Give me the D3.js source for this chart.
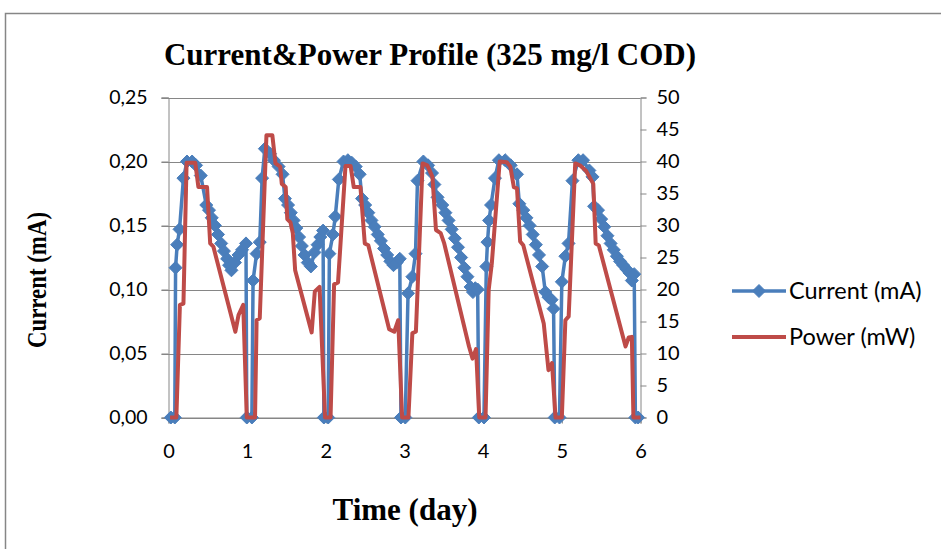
<!DOCTYPE html>
<html><head><meta charset="utf-8">
<script src="https://cdn.jsdelivr.net/npm/d3@7"></script>
<style>body{margin:0;background:#fff}svg{display:block}</style>
</head><body><svg id="c" width="941" height="549"></svg>
<script>
const chartTitle = "Current&Power Profile (325 mg/l COD)";
const xTitle = "Time (day)";
const yTitle = "Current (mA)";
const seriesNames = ["Current (mA)", "Power (mW)"];
const xTicks = [0, 1, 2, 3, 4, 5, 6];
const leftTicks = [0, 0.05, 0.10, 0.15, 0.20, 0.25];
const rightTicks = [0, 5, 10, 15, 20, 25, 30, 35, 40, 45, 50];

const currentTime = [
 0.03,0.08,0.09,0.11,0.14,0.19,0.235,0.30,0.35,0.41,0.48,0.515,0.55,0.59,0.63,0.67,0.705,0.745,0.77,0.80,0.845,0.89,0.935,0.985,0.995,
 1.06,1.075,1.12,1.16,1.19,1.225,1.29,1.34,1.40,1.45,1.48,1.52,1.555,1.59,1.625,1.66,1.695,1.73,1.77,1.81,1.855,1.895,1.93,1.965,1.975,
 2.03,2.045,2.09,2.12,2.165,2.225,2.28,2.33,2.38,2.43,2.46,2.50,2.54,2.58,2.62,2.66,2.70,2.74,2.78,2.82,2.86,2.90,2.94,2.955,
 3.01,3.045,3.10,3.14,3.165,3.24,3.30,3.35,3.38,3.42,3.48,3.52,3.56,3.60,3.64,3.68,3.72,3.76,3.80,3.84,3.87,3.90,3.93,3.945,
 4.01,4.04,4.055,4.075,4.10,4.15,4.20,4.28,4.35,4.43,4.46,4.51,4.55,4.59,4.63,4.67,4.71,4.75,4.79,4.83,4.87,4.895,4.91,
 4.97,5.00,5.045,5.085,5.135,5.21,5.27,5.35,5.39,5.41,5.46,5.50,5.54,5.58,5.62,5.66,5.70,5.74,5.78,5.82,5.86,5.89,5.92,5.935,5.97
];
const currentValues = [
 0,0,0.117,0.135,0.147,0.187,0.200,0.200,0.197,0.189,0.166,0.162,0.156,0.150,0.143,0.136,0.130,0.124,0.119,0.115,0.121,0.127,0.131,0.136,0,
 0,0.107,0.128,0.137,0.187,0.210,0.206,0.201,0.196,0.190,0.171,0.166,0.160,0.154,0.148,0.141,0.134,0.127,0.121,0.118,0.129,0.135,0.141,0.146,0,
 0,0.128,0.143,0.157,0.186,0.200,0.201,0.199,0.196,0.190,0.171,0.166,0.160,0.154,0.149,0.143,0.138,0.132,0.127,0.122,0.119,0.121,0.124,0,
 0,0.097,0.110,0.128,0.185,0.200,0.197,0.191,0.182,0.172,0.166,0.160,0.154,0.147,0.140,0.133,0.125,0.117,0.110,0.102,0.098,0.101,0.100,0,
 0,0.118,0.137,0.154,0.166,0.187,0.201,0.201,0.197,0.190,0.167,0.162,0.156,0.150,0.143,0.135,0.127,0.118,0.098,0.094,0.092,0.085,0,
 0,0.106,0.126,0.136,0.185,0.201,0.201,0.193,0.188,0.165,0.162,0.155,0.149,0.142,0.136,0.131,0.126,0.122,0.119,0.116,0.113,0.107,0.112,0,0
];
const powerTime = [
 0.02,0.10,0.145,0.19,0.23,0.34,0.38,0.49,0.53,0.57,0.85,0.89,0.95,0.995,
 1.10,1.12,1.16,1.245,1.32,1.36,1.42,1.44,1.49,1.51,1.55,1.58,1.61,1.82,1.86,1.92,1.99,
 2.06,2.105,2.155,2.25,2.315,2.355,2.44,2.495,2.54,2.805,2.87,2.92,2.97,
 3.05,3.10,3.145,3.23,3.29,3.355,3.40,3.46,3.505,3.82,3.865,3.91,3.95,
 4.03,4.07,4.11,4.21,4.30,4.345,4.39,4.43,4.47,4.51,4.77,4.83,4.875,4.92,
 5.00,5.045,5.087,5.17,5.23,5.31,5.40,5.43,5.47,5.81,5.85,5.89,5.91,6.00
];
const powerValues = [
 0,0,17.6,17.8,39.8,39.8,36,36,27.2,26.7,13.4,16,17.6,0,
 0,15.2,15.5,44.1,44.1,39.7,39.2,36.5,36,31,30.5,28.8,23,13.3,19.7,20.4,0,
 0,20.8,21.1,39.3,39.3,36,36,27.2,26.9,13.8,13.4,15.2,0,
 0,13.2,13.4,39.7,39.4,37.6,29.3,28.8,27.2,11.1,9.2,10.7,0,
 0,19.9,24.1,40.0,39.9,39.2,36,35.8,27.5,26.9,14.7,7.4,8.5,0,
 0,15.2,15.8,39.7,39.4,38.5,36.5,27.2,26.9,11.1,12.5,12.6,0,0
];

const blue = "#4A7EBB", red = "#BE4B48", grid = "#868686";
const svg = d3.select("#c");
const L = 168.5, R = 640.5, T = 97.5, B = 417.5;
const x = d3.scaleLinear().domain([0, 6]).range([L, R]);
const yL = d3.scaleLinear().domain([0, 0.25]).range([B, T]);
const yR = d3.scaleLinear().domain([0, 50]).range([B, T]);
const loc = d3.formatLocale({decimal: ",", thousands: ".", grouping: [3], currency: ["", ""]});
const fmtL = loc.format(".2f");

// chart border
svg.append("rect").attr("x", 5.5).attr("y", 13.5).attr("width", 1000).attr("height", 600)
  .attr("fill", "#fff").attr("stroke", grid).attr("stroke-width", 1.5);

// title
svg.append("text").attr("x", 430).attr("y", 65).attr("text-anchor", "middle")
  .attr("font-family", "Liberation Serif").attr("font-weight", "bold").attr("font-size", 31)
  .text(chartTitle);

// gridlines
svg.append("g").selectAll("line").data(leftTicks).join("line")
  .attr("x1", L - 7).attr("x2", R).attr("y1", d => Math.round(yL(d)) + 0.5).attr("y2", d => Math.round(yL(d)) + 0.5)
  .attr("stroke", grid).attr("stroke-width", 1);

// left axis
const gL = svg.append("g").attr("transform", `translate(${L},0)`)
  .call(d3.axisLeft(yL).tickValues(leftTicks).tickFormat(fmtL).tickSize(7).tickPadding(14));
gL.select(".domain").attr("stroke", grid);
gL.selectAll(".tick line").attr("stroke", grid);
gL.selectAll("text").attr("font-family", "Lato").attr("font-size", 19.5).attr("fill", "#000");

// right axis
const gR = svg.append("g").attr("transform", `translate(${R},0)`)
  .call(d3.axisRight(yR).tickValues(rightTicks).tickSize(6).tickPadding(10));
gR.select(".domain").attr("stroke", grid);
gR.selectAll(".tick line").attr("stroke", grid);
gR.selectAll("text").attr("font-family", "Lato").attr("font-size", 20).attr("fill", "#000");

// bottom axis
const gB = svg.append("g").attr("transform", `translate(0,${B})`)
  .call(d3.axisBottom(x).tickValues(xTicks).tickFormat(d3.format("d")).tickSize(6).tickPadding(20));
gB.select(".domain").attr("stroke", grid);
gB.selectAll(".tick line").attr("stroke", grid);
gB.selectAll("text").attr("font-family", "Lato").attr("font-size", 20).attr("fill", "#000");

// axis titles
svg.append("text").attr("x", 405).attr("y", 520).attr("text-anchor", "middle")
  .attr("font-family", "Liberation Serif").attr("font-weight", "bold").attr("font-size", 31)
  .text(xTitle);
svg.append("text").attr("transform", "translate(46,280) rotate(-90)").attr("text-anchor", "middle")
  .attr("font-family", "Liberation Serif").attr("font-weight", "bold").attr("font-size", 28)
  .attr("textLength", 136).attr("lengthAdjust", "spacingAndGlyphs")
  .text(yTitle);

// series
const cur = currentTime.map((t, i) => [t, currentValues[i]]);
const pow = powerTime.map((t, i) => [t, powerValues[i]]);
const diamond = "M0,-6.5L6.5,0L0,6.5L-6.5,0Z";

svg.append("path").datum(cur).attr("fill", "none").attr("stroke", blue).attr("stroke-width", 3.5)
  .attr("stroke-linejoin", "round")
  .attr("d", d3.line().x(d => x(d[0])).y(d => yL(d[1])));
svg.append("g").selectAll("path").data(cur).join("path")
  .attr("transform", d => `translate(${x(d[0])},${yL(d[1])})`)
  .attr("d", diamond).attr("fill", blue).attr("stroke", blue).attr("stroke-width", 1);
svg.append("path").datum(pow).attr("fill", "none").attr("stroke", red).attr("stroke-width", 4)
  .attr("stroke-linejoin", "round")
  .attr("d", d3.line().x(d => x(d[0])).y(d => yR(d[1])));

// legend
const lg = svg.append("g");
lg.append("line").attr("x1", 732).attr("x2", 786).attr("y1", 291).attr("y2", 291)
  .attr("stroke", blue).attr("stroke-width", 3.5);
lg.append("path").attr("transform", "translate(759,291)").attr("d", diamond).attr("fill", blue)
  .attr("stroke", blue).attr("stroke-width", 1);
lg.append("text").attr("x", 789).attr("y", 299).attr("font-family", "Lato").attr("font-size", 23.5)
  .text(seriesNames[0]);
lg.append("line").attr("x1", 732).attr("x2", 786).attr("y1", 337).attr("y2", 337)
  .attr("stroke", red).attr("stroke-width", 4);
lg.append("text").attr("x", 789).attr("y", 345).attr("font-family", "Lato").attr("font-size", 23.5)
  .text(seriesNames[1]);
</script></body></html>
